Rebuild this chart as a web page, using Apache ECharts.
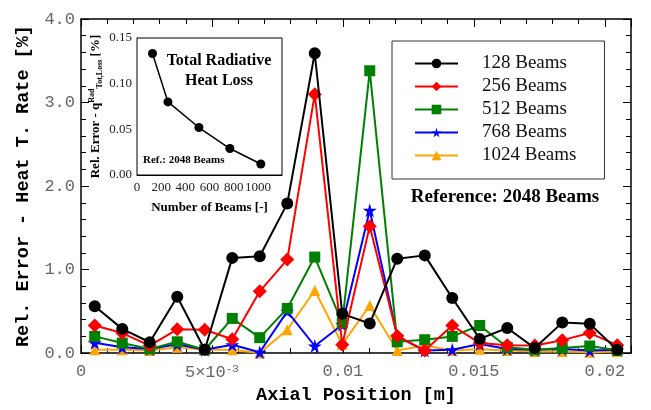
<!DOCTYPE html>
<html>
<head>
<meta charset="utf-8">
<script src="https://cdn.jsdelivr.net/npm/echarts@6/dist/echarts.min.js"></script>
<style>html,body{margin:0;padding:0;background:#fff}#c{width:651px;height:410px}</style>
</head>
<body>
<div id="c"></div>
<script>
// Axial positions (cell centres) [m]
const positions = [0.000525,0.001575,0.002625,0.003675,0.004725,0.005775,0.006825,0.007875,0.008925,0.009975,0.011025,0.012075,0.013125,0.014175,0.015225,0.016275,0.017325,0.018375,0.019425,0.020475];
const seriesNames = ['128 Beams','256 Beams','512 Beams','768 Beams','1024 Beams'];
const beams128  = [0.56,0.29,0.13,0.675,0.04,1.14,1.16,1.79,3.59,0.47,0.355,1.13,1.17,0.66,0.17,0.30,0.06,0.365,0.35,0.04];
const beams256  = [0.33,0.24,0.09,0.285,0.28,0.165,0.74,1.12,3.10,0.10,1.52,0.205,0.03,0.33,0.12,0.095,0.09,0.155,0.24,0.095];
const beams512  = [0.20,0.12,0.05,0.135,0.04,0.415,0.185,0.535,1.15,0.36,3.38,0.135,0.16,0.20,0.33,0.07,0.04,0.06,0.085,0.035];
const beams768  = [0.125,0.07,0.05,0.105,0.04,0.10,0.01,0.50,0.085,0.34,1.71,0.20,0.03,0.04,0.11,0.05,0.04,0.05,0.03,0.04];
const beams1024 = [0.04,0.04,0.03,0.07,0.04,0.04,0.0,0.28,0.75,0.105,0.57,0.03,0.09,0.03,0.045,0.03,0.02,0.02,0.01,0.02];
// Inset: total radiative heat loss error
const insetBeams  = [128,256,512,768,1024];
const insetErrors = [0.133,0.080,0.052,0.029,0.012];

const colors = ['#000000','#ff0000','#008000','#0000ff','#ffa500'];
const starPath = 'path://M50,0 L61,35 L98,35 L68,57 L79,91 L50,70 L21,91 L32,57 L2,35 L39,35 Z';
const symbols = ['circle','diamond','rect',starPath,'triangle'];
const symbolSizes = [12,14,11,14,11];
const allData = [beams128,beams256,beams512,beams768,beams1024];

const MONO = '"Liberation Mono", "DejaVu Sans Mono", monospace';
const SERIF = '"Liberation Serif", "DejaVu Serif", serif';

function pairs(xs, ys){ return xs.map((x,i)=>[x, ys[i]]); }

const mainSeries = seriesNames.map((n,i)=>({
  name:n, type:'line', xAxisIndex:0, yAxisIndex:0,
  data: pairs(positions, allData[i]),
  symbol: symbols[i], symbolSize: symbolSizes[i],
  lineStyle:{color:colors[i], width:2},
  itemStyle:{color:colors[i]},
  emphasis:{disabled:true}, animation:false, z: 10-i
}));

const insetSeries = {
  type:'line', xAxisIndex:2, yAxisIndex:2,
  data: pairs(insetBeams, insetErrors),
  symbol:'circle', symbolSize:9,
  lineStyle:{color:'#000', width:1.5}, itemStyle:{color:'#000'},
  animation:false, emphasis:{disabled:true}, z:20
};

function xFmt(v){
  if (Math.abs(v-0.005)<1e-9) return '5×10{sup|-3}';
  if (Math.abs(v)<1e-12) return '0';
  return String(+v.toFixed(4));
}

const option = {
  backgroundColor:'#fff',
  animation:false,
  grid:[
    {left:81, right:20, top:19, bottom:56, show:false},
    {left:137, top:38, width:145, height:137, show:true, backgroundColor:'#fff', borderColor:'#000', borderWidth:1, z:5}
  ],
  legend:{
    data: seriesNames, orient:'vertical', left:392, top:41,
    padding:[13,28,14,22], itemGap:4, itemWidth:43, itemHeight:12,
    borderColor:'#333', borderWidth:1, backgroundColor:'#fff',
    textStyle:{fontFamily:SERIF, fontSize:19, color:'#111', padding:[0,0,0,19]},
    selectedMode:false
  },
  xAxis:[
    {type:'value', gridIndex:0, min:0, max:0.021, interval:0.005,
     axisLine:{show:true, onZero:false, lineStyle:{color:'#000', width:1.5}},
     axisTick:{show:true, inside:true, length:8, lineStyle:{color:'#000'}},
     minorTick:{show:true, splitNumber:5, length:5, lineStyle:{color:'#000'}},
     splitLine:{show:false},
     axisLabel:{show:true, showMaxLabel:false, margin:10, color:'#666', fontFamily:MONO, fontSize:17, formatter:xFmt,
       rich:{sup:{fontFamily:MONO, fontSize:11, color:'#666', verticalAlign:'top', padding:[0,0,8,0]}}},
     name:'Axial Position [m]', nameLocation:'middle', nameGap:29,
     nameTextStyle:{fontFamily:MONO, fontWeight:'bold', fontSize:18.5, color:'#000'}
    },
    {type:'value', gridIndex:0, min:0, max:0.021, interval:0.005, position:'top',
     axisLine:{show:true, onZero:false, lineStyle:{color:'#000', width:1.5}},
     axisTick:{show:true, inside:true, length:8, lineStyle:{color:'#000'}},
     minorTick:{show:true, splitNumber:5, length:5, lineStyle:{color:'#000'}},
     splitLine:{show:false}, axisLabel:{show:false}},
    {type:'value', gridIndex:1, min:0, max:1199, interval:200,
     axisLine:{show:true, onZero:false, lineStyle:{color:'#000', width:1}},
     axisTick:{show:true, inside:true, length:5, lineStyle:{color:'#000'}},
     splitLine:{show:false},
     axisLabel:{showMaxLabel:false, margin:6, color:'#222', fontFamily:SERIF, fontSize:13, formatter:v=>String(Math.round(v))},
     name:'Number of Beams [-]', nameLocation:'middle', nameGap:26,
     nameTextStyle:{fontFamily:SERIF, fontWeight:'bold', fontSize:13, color:'#000'}
    }
  ],
  yAxis:[
    {type:'value', gridIndex:0, min:0, max:4, interval:1,
     axisLine:{show:true, onZero:false, lineStyle:{color:'#000', width:1.5}},
     axisTick:{show:true, inside:true, length:8, lineStyle:{color:'#000'}},
     minorTick:{show:true, splitNumber:5, length:5, lineStyle:{color:'#000'}},
     splitLine:{show:false},
     axisLabel:{margin:6, color:'#666', fontFamily:MONO, fontSize:17, formatter:v=>v.toFixed(1)},
     name:'Rel. Error - Heat T. Rate [%]', nameLocation:'middle', nameGap:48, nameRotate:90,
     nameTextStyle:{fontFamily:MONO, fontWeight:'bold', fontSize:18.5, color:'#000'}
    },
    {type:'value', gridIndex:0, min:0, max:4, interval:1, position:'right',
     axisLine:{show:true, onZero:false, lineStyle:{color:'#000', width:1.5}},
     axisTick:{show:true, inside:true, length:8, lineStyle:{color:'#000'}},
     minorTick:{show:true, splitNumber:5, length:5, lineStyle:{color:'#000'}},
     splitLine:{show:false}, axisLabel:{show:false}},
    {type:'value', gridIndex:1, min:0, max:0.15, interval:0.05,
     axisLine:{show:true, onZero:false, lineStyle:{color:'#000', width:1}},
     axisTick:{show:true, inside:true, length:5, lineStyle:{color:'#000'}},
     splitLine:{show:false},
     axisLabel:{margin:5, color:'#222', fontFamily:SERIF, fontSize:13, formatter:v=>v.toFixed(2)},
     name:'Rel. Error - q{sup|Rad}{sub|Tot,Loss} [%]', nameLocation:'middle', nameGap:33, nameRotate:90,
     nameTextStyle:{fontFamily:SERIF, fontWeight:'bold', fontSize:13, color:'#000',
       rich:{sup:{fontFamily:SERIF, fontWeight:'bold', fontSize:8, verticalAlign:'top', padding:[0,0,8,0]},
             sub:{fontFamily:SERIF, fontWeight:'bold', fontSize:8, verticalAlign:'bottom', padding:[6,0,0,0]}}}
    }
  ],
  graphic:[
    {type:'text', z:30, style:{text:'Total Radiative\nHeat Loss', x:219, y:51, textAlign:'center', fontFamily:SERIF, fontWeight:'bold', fontSize:16, lineHeight:20, fill:'#000'}},
    {type:'text', z:30, style:{text:'Ref.: 2048 Beams', x:143, y:155, fontFamily:SERIF, fontWeight:'bold', fontSize:11, fill:'#000'}},
    {type:'text', z:30, style:{text:'Reference: 2048 Beams', x:505, y:188, textAlign:'center', fontFamily:SERIF, fontWeight:'bold', fontSize:19, fill:'#000'}}
  ],
  series: mainSeries.concat([insetSeries])
};

const chart = echarts.init(document.getElementById('c'), null, {renderer:'canvas'});
chart.setOption(option);
</script>
</body>
</html>
